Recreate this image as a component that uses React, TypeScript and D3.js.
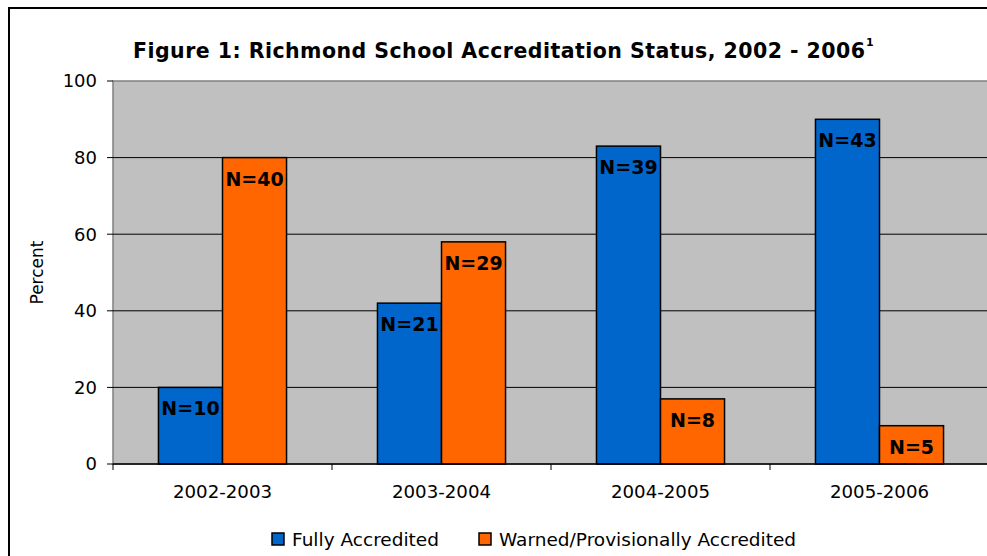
import React from "react";
import * as d3 from "d3";

const categories = ["2002-2003", "2003-2004", "2004-2005", "2005-2006"];
const seriesNames = ["Fully Accredited", "Warned/Provisionally Accredited"];
const fullyValues = [20, 42, 83, 90];
const warnedValues = [80, 58, 17, 10];
const fullyN = ["N=10", "N=21", "N=39", "N=43"];
const warnedN = ["N=40", "N=29", "N=8", "N=5"];
const yTicks = [0, 20, 40, 60, 80, 100];
const colors = ["#0066CC", "#FF6600"];

const W = 987;
const H = 556;
const plot = { left: 113, right: 989, top: 81, bottom: 464 };
const font = "'DejaVu Sans', Verdana, sans-serif";

export default function App() {
  const x = d3.scaleBand<string>().domain(categories).range([plot.left, plot.right]).padding(0);
  const xSub = d3
    .scaleBand<string>()
    .domain(seriesNames)
    .range([0, x.bandwidth()])
    .paddingInner(0)
    .paddingOuter(0.71);
  const y = d3.scaleLinear().domain([0, 100]).range([plot.bottom, plot.top]);

  const seriesValues = [fullyValues, warnedValues];
  const seriesLabels = [fullyN, warnedN];

  return (
    <svg
      width={W}
      height={H}
      style={{ position: "absolute", left: 0, top: 0, background: "#fff" }}
      fontFamily={font}
    >
      <rect x={0} y={0} width={W} height={H} fill="#fff" />
      {/* outer border */}
      <rect x={9} y={8} width={1000} height={600} fill="none" stroke="#000" strokeWidth={2} />

      {/* title */}
      <text x={133} y={58} fontSize={20.5} fontWeight="bold" fill="#000" textLength={732} lengthAdjust="spacing">
        Figure 1: Richmond School Accreditation Status, 2002 - 2006
      </text>
      <text x={866} y={46} fontSize={11} fontWeight="bold" fill="#000">1</text>

      {/* plot bg */}
      <rect
        x={plot.left}
        y={plot.top}
        width={plot.right - plot.left}
        height={plot.bottom - plot.top}
        fill="#C0C0C0"
        stroke="#808080"
        strokeWidth={1.5}
      />

      {/* gridlines */}
      {yTicks
        .filter((t) => t > 0 && t < 100)
        .map((t) => (
          <line key={"g" + t} x1={plot.left} x2={plot.right} y1={y(t)} y2={y(t)} stroke="#000" strokeWidth={1} />
        ))}

      {/* y axis ticks and labels */}
      {yTicks.map((t) => (
        <g key={"yt" + t}>
          <line x1={plot.left - 6} x2={plot.left} y1={y(t)} y2={y(t)} stroke="#000" strokeWidth={1} />
          <text x={97} y={y(t)} dy="0.36em" textAnchor="end" fontSize={18} fill="#000">
            {t}
          </text>
        </g>
      ))}
      <text
        transform={`translate(43, ${(plot.top + plot.bottom) / 2}) rotate(-90)`}
        textAnchor="middle"
        fontSize={17}
        fill="#000"
      >
        Percent
      </text>

      {/* bars */}
      {categories.map((c, ci) => (
        <g key={c} transform={`translate(${x(c)},0)`}>
          {seriesNames.map((s, si) => {
            const v = seriesValues[si][ci];
            const bx = xSub(s)!;
            const bw = xSub.bandwidth();
            return (
              <g key={s}>
                <rect
                  x={bx}
                  y={y(v)}
                  width={bw}
                  height={plot.bottom - y(v)}
                  fill={colors[si]}
                  stroke="#000"
                  strokeWidth={1.5}
                />
                <text
                  x={bx + bw / 2}
                  y={y(v) + 28}
                  textAnchor="middle"
                  fontSize={19}
                  fontWeight="bold"
                  fill="#000"
                >
                  {seriesLabels[si][ci]}
                </text>
              </g>
            );
          })}
        </g>
      ))}

      {/* x axis */}
      <line x1={plot.left} x2={plot.right} y1={plot.bottom} y2={plot.bottom} stroke="#000" strokeWidth={1.5} />
      {categories.map((c) => (
        <line key={"xt" + c} x1={x(c)} x2={x(c)} y1={plot.bottom} y2={plot.bottom + 6} stroke="#000" strokeWidth={1} />
      ))}
      {categories.map((c) => (
        <text key={"xl" + c} x={x(c)! + x.bandwidth() / 2} y={498} textAnchor="middle" fontSize={18.2} fill="#000">
          {c}
        </text>
      ))}

      {/* legend */}
      {seriesNames.map((s, si) => {
        const lx = si === 0 ? 272 : 479;
        return (
          <g key={"lg" + s}>
            <rect x={lx} y={533} width={12} height={12} fill={colors[si]} stroke="#000" strokeWidth={1.5} />
            <text x={lx + 20} y={546} fontSize={18.5} fill="#000">
              {s}
            </text>
          </g>
        );
      })}
    </svg>
  );
}
